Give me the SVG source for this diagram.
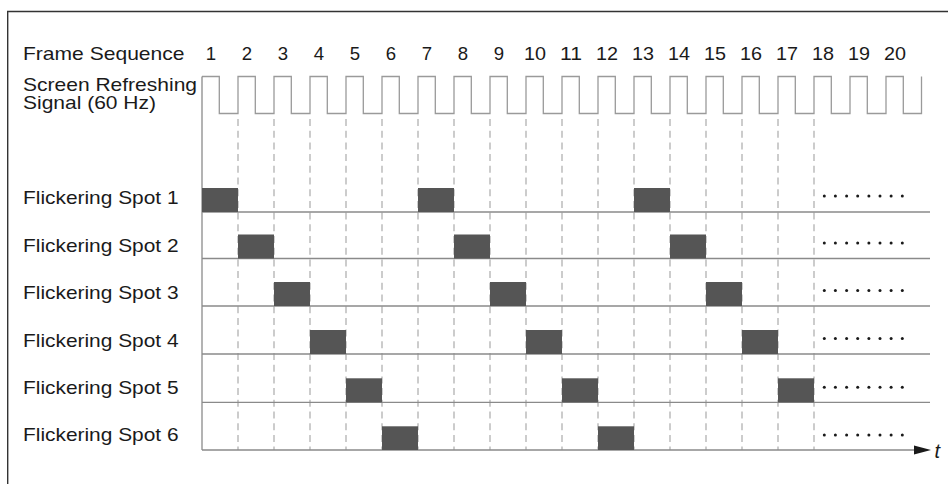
<svg xmlns="http://www.w3.org/2000/svg" width="948" height="484" viewBox="0 0 948 484">
<style>
text{font-family:"Liberation Sans",Arial,Helvetica,sans-serif;font-size:18.6px;fill:#1a1a1a}
.num{text-anchor:middle}
.wave{fill:none;stroke:#9a9a9a;stroke-width:1.3}
.axis{fill:none;stroke:#8a8a8a;stroke-width:1.3}
.dash{fill:none;stroke:#ababab;stroke-width:1.2;stroke-dasharray:7 4.7}
.bar{fill:#555555}
.dot{fill:#1a1a1a}
.frame{fill:none;stroke:#333;stroke-width:1.4}
</style>
<rect x="0" y="0" width="948" height="484" fill="#ffffff"/>
<path class="frame" d="M7.7,484 V11.5 H948"/>

<g id="header">
<text x="23" y="59.5" textLength="161.5" lengthAdjust="spacingAndGlyphs">Frame Sequence</text>
<g id="frame-numbers">
<text class="num" x="211" y="59.5">1</text>
<text class="num" x="247" y="59.5">2</text>
<text class="num" x="283" y="59.5">3</text>
<text class="num" x="319" y="59.5">4</text>
<text class="num" x="355" y="59.5">5</text>
<text class="num" x="391" y="59.5">6</text>
<text class="num" x="427" y="59.5">7</text>
<text class="num" x="463" y="59.5">8</text>
<text class="num" x="499" y="59.5">9</text>
<text class="num" x="535" y="59.5" textLength="22" lengthAdjust="spacingAndGlyphs">10</text>
<text class="num" x="571" y="59.5" textLength="22" lengthAdjust="spacingAndGlyphs">11</text>
<text class="num" x="607" y="59.5" textLength="22" lengthAdjust="spacingAndGlyphs">12</text>
<text class="num" x="643" y="59.5" textLength="22" lengthAdjust="spacingAndGlyphs">13</text>
<text class="num" x="679" y="59.5" textLength="22" lengthAdjust="spacingAndGlyphs">14</text>
<text class="num" x="715" y="59.5" textLength="22" lengthAdjust="spacingAndGlyphs">15</text>
<text class="num" x="751" y="59.5" textLength="22" lengthAdjust="spacingAndGlyphs">16</text>
<text class="num" x="787" y="59.5" textLength="22" lengthAdjust="spacingAndGlyphs">17</text>
<text class="num" x="823" y="59.5" textLength="22" lengthAdjust="spacingAndGlyphs">18</text>
<text class="num" x="859" y="59.5" textLength="22" lengthAdjust="spacingAndGlyphs">19</text>
<text class="num" x="895" y="59.5" textLength="22" lengthAdjust="spacingAndGlyphs">20</text>
</g>
</g>

<g id="refresh-signal">
<text x="23" y="91" textLength="174" lengthAdjust="spacingAndGlyphs">Screen Refreshing</text>
<text x="23" y="109" textLength="133" lengthAdjust="spacingAndGlyphs">Signal (60 Hz)</text>
<path class="wave" d="M202,76.5 H219.3 V113.5 H238 V76.5 H255.3 V113.5 H274 V76.5 H291.3 V113.5 H310 V76.5 H327.3 V113.5 H346 V76.5 H363.3 V113.5 H382 V76.5 H399.3 V113.5 H418 V76.5 H435.3 V113.5 H454 V76.5 H471.3 V113.5 H490 V76.5 H507.3 V113.5 H526 V76.5 H543.3 V113.5 H562 V76.5 H579.3 V113.5 H598 V76.5 H615.3 V113.5 H634 V76.5 H651.3 V113.5 H670 V76.5 H687.3 V113.5 H706 V76.5 H723.3 V113.5 H742 V76.5 H759.3 V113.5 H778 V76.5 H795.3 V113.5 H814 V76.5 H831.3 V113.5 H850 V76.5 H867.3 V113.5 H886 V76.5 H903.3 V113.5 H921.5 V76.5"/>
</g>

<g id="connectors">
<path class="axis" d="M202,76.5 V450"/>
<g id="frame-boundaries">
<path class="dash" d="M238,119 V450 M274,119 V450 M310,119 V450 M346,119 V450 M382,119 V450 M418,119 V450 M454,119 V450 M490,119 V450 M526,119 V450 M562,119 V450 M598,119 V450 M634,119 V450 M670,119 V450 M706,119 V450 M742,119 V450 M778,119 V450 M814,119 V450"/>
</g>
<path class="axis" d="M202,212 H930 M202,258.5 H930 M202,306 H930 M202,354 H930 M202,402.3 H930 M202,450 H916"/>
<polygon points="914,445.5 931,450 914,454.5" fill="#1a1a1a"/>
<text x="934.5" y="457.5" style="font-style:italic;font-size:20px">t</text>
</g>

<g id="spot1">
<text x="23" y="204.3" textLength="155.5" lengthAdjust="spacingAndGlyphs">Flickering Spot 1</text>
<rect class="bar" x="202" y="188" width="36" height="24"/>
<rect class="bar" x="418" y="188" width="36" height="24"/>
<rect class="bar" x="634" y="188" width="36" height="24"/>
<g class="dot"><circle cx="824.3" cy="196" r="1.5"/><circle cx="835.4" cy="196" r="1.5"/><circle cx="846.6" cy="196" r="1.5"/><circle cx="857.7" cy="196" r="1.5"/><circle cx="868.9" cy="196" r="1.5"/><circle cx="880" cy="196" r="1.5"/><circle cx="891.1" cy="196" r="1.5"/><circle cx="902.3" cy="196" r="1.5"/></g>
</g>

<g id="spot2">
<text x="23" y="251.7" textLength="155.5" lengthAdjust="spacingAndGlyphs">Flickering Spot 2</text>
<rect class="bar" x="238" y="234.5" width="36" height="24"/>
<rect class="bar" x="454" y="234.5" width="36" height="24"/>
<rect class="bar" x="670" y="234.5" width="36" height="24"/>
<g class="dot"><circle cx="824.3" cy="243" r="1.5"/><circle cx="835.4" cy="243" r="1.5"/><circle cx="846.6" cy="243" r="1.5"/><circle cx="857.7" cy="243" r="1.5"/><circle cx="868.9" cy="243" r="1.5"/><circle cx="880" cy="243" r="1.5"/><circle cx="891.1" cy="243" r="1.5"/><circle cx="902.3" cy="243" r="1.5"/></g>
</g>

<g id="spot3">
<text x="23" y="299.1" textLength="155.5" lengthAdjust="spacingAndGlyphs">Flickering Spot 3</text>
<rect class="bar" x="274" y="282" width="36" height="24"/>
<rect class="bar" x="490" y="282" width="36" height="24"/>
<rect class="bar" x="706" y="282" width="36" height="24"/>
<g class="dot"><circle cx="824.3" cy="290.5" r="1.5"/><circle cx="835.4" cy="290.5" r="1.5"/><circle cx="846.6" cy="290.5" r="1.5"/><circle cx="857.7" cy="290.5" r="1.5"/><circle cx="868.9" cy="290.5" r="1.5"/><circle cx="880" cy="290.5" r="1.5"/><circle cx="891.1" cy="290.5" r="1.5"/><circle cx="902.3" cy="290.5" r="1.5"/></g>
</g>

<g id="spot4">
<text x="23" y="346.5" textLength="155.5" lengthAdjust="spacingAndGlyphs">Flickering Spot 4</text>
<rect class="bar" x="310" y="330" width="36" height="24"/>
<rect class="bar" x="526" y="330" width="36" height="24"/>
<rect class="bar" x="742" y="330" width="36" height="24"/>
<g class="dot"><circle cx="824.3" cy="338.5" r="1.5"/><circle cx="835.4" cy="338.5" r="1.5"/><circle cx="846.6" cy="338.5" r="1.5"/><circle cx="857.7" cy="338.5" r="1.5"/><circle cx="868.9" cy="338.5" r="1.5"/><circle cx="880" cy="338.5" r="1.5"/><circle cx="891.1" cy="338.5" r="1.5"/><circle cx="902.3" cy="338.5" r="1.5"/></g>
</g>

<g id="spot5">
<text x="23" y="393.9" textLength="155.5" lengthAdjust="spacingAndGlyphs">Flickering Spot 5</text>
<rect class="bar" x="346" y="378.3" width="36" height="24"/>
<rect class="bar" x="562" y="378.3" width="36" height="24"/>
<rect class="bar" x="778" y="378.3" width="36" height="24"/>
<g class="dot"><circle cx="824.3" cy="387.3" r="1.5"/><circle cx="835.4" cy="387.3" r="1.5"/><circle cx="846.6" cy="387.3" r="1.5"/><circle cx="857.7" cy="387.3" r="1.5"/><circle cx="868.9" cy="387.3" r="1.5"/><circle cx="880" cy="387.3" r="1.5"/><circle cx="891.1" cy="387.3" r="1.5"/><circle cx="902.3" cy="387.3" r="1.5"/></g>
</g>

<g id="spot6">
<text x="23" y="441.3" textLength="155.5" lengthAdjust="spacingAndGlyphs">Flickering Spot 6</text>
<rect class="bar" x="382" y="426.3" width="36" height="23.7"/>
<rect class="bar" x="598" y="426.3" width="36" height="23.7"/>
<g class="dot"><circle cx="824.3" cy="435" r="1.5"/><circle cx="835.4" cy="435" r="1.5"/><circle cx="846.6" cy="435" r="1.5"/><circle cx="857.7" cy="435" r="1.5"/><circle cx="868.9" cy="435" r="1.5"/><circle cx="880" cy="435" r="1.5"/><circle cx="891.1" cy="435" r="1.5"/><circle cx="902.3" cy="435" r="1.5"/></g>
</g>
</svg>
